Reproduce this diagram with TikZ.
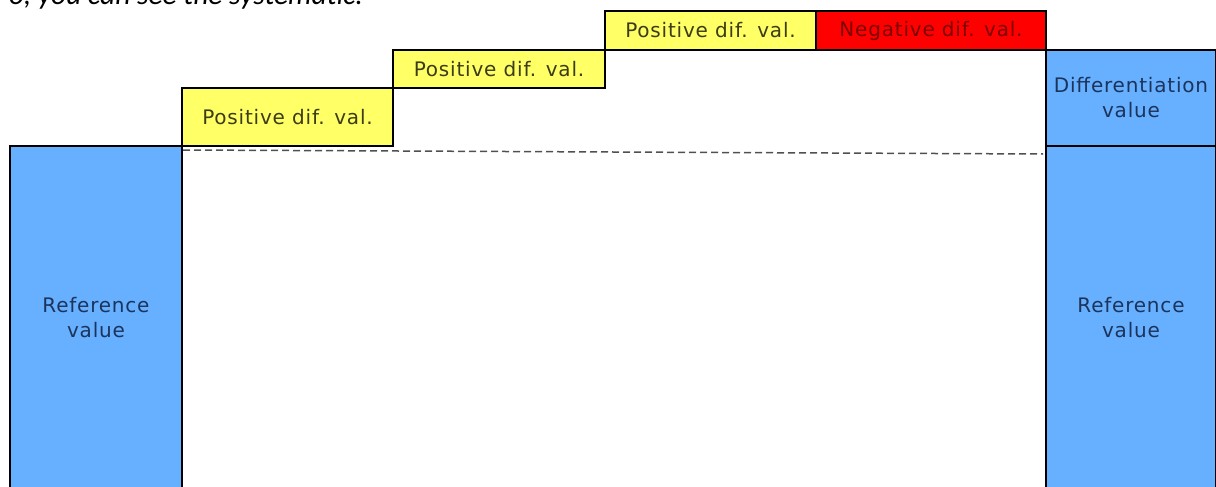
\documentclass[tikz,border=0pt]{standalone}
\usepackage{fontspec}
\setmainfont{DejaVu Sans}[LetterSpace=4]
\newfontfamily\introfont{Carlito}
\usetikzlibrary{calc}
\definecolor{refblue}{RGB}{102,176,255}
\definecolor{difyellow}{RGB}{255,255,102}
\definecolor{difred}{RGB}{255,0,0}
\definecolor{bluetext}{RGB}{28,52,92}
\definecolor{olivetext}{RGB}{60,60,22}
\definecolor{redtext}{RGB}{125,0,0}
\definecolor{dashgray}{RGB}{80,80,80}
\begin{document}
\begin{tikzpicture}[x=1pt,y=-1pt,
  box/.style={draw=black, line width=1.3pt, inner sep=0pt, outer sep=0pt,
    anchor=north west, align=center, font=\fontsize{20}{25}\selectfont},
  refbox/.style={box, fill=refblue, text=bluetext},
  posbox/.style={box, fill=difyellow, text=olivetext},
  negbox/.style={box, fill=difred, text=redtext},
  baseline/.style={draw=dashgray, line width=1.5pt, dash pattern=on 7pt off 4pt}]
\useasboundingbox (0,0) rectangle (1216,487);
\clip (0,0) rectangle (1216,487);

% line of running text above the chart
\node[anchor=base west, inner sep=0pt, font=\introfont\itshape\fontsize{29.5}{30}\selectfont]
  (intro) at (9,4.5) {o, you can see the systematic:};

% reference column on the left
\node[refbox, minimum width=172, minimum height=344] (refL) at (10,146) {Reference\\value};

% staircase of differentiation values
\node[posbox, minimum width=211, minimum height=58] (p1) at (182,88) {Positive dif. val.};
\node[posbox, minimum width=212, minimum height=38] (p2) at (393,50) {Positive dif. val.};
\node[posbox, minimum width=211, minimum height=39] (p3) at (605,11) {Positive dif. val.};
\node[negbox, minimum width=230, minimum height=39] (n1) at (816,11) {Negative dif. val.};

% resulting column on the right
\node[refbox, minimum width=170, minimum height=96] (dv) at (1046,50) {Differentiation\\value};
\node[refbox, minimum width=170, minimum height=344] (refR) at (1046,146) {Reference\\value};

% level of the reference value
\coordinate (lvlL) at ($(p1.south west)+(1,4)$);
\coordinate (lvlR) at ($(refR.north west)+(-3,8)$);
\draw[baseline] (lvlL) -- (lvlR);
\end{tikzpicture}
\end{document}
